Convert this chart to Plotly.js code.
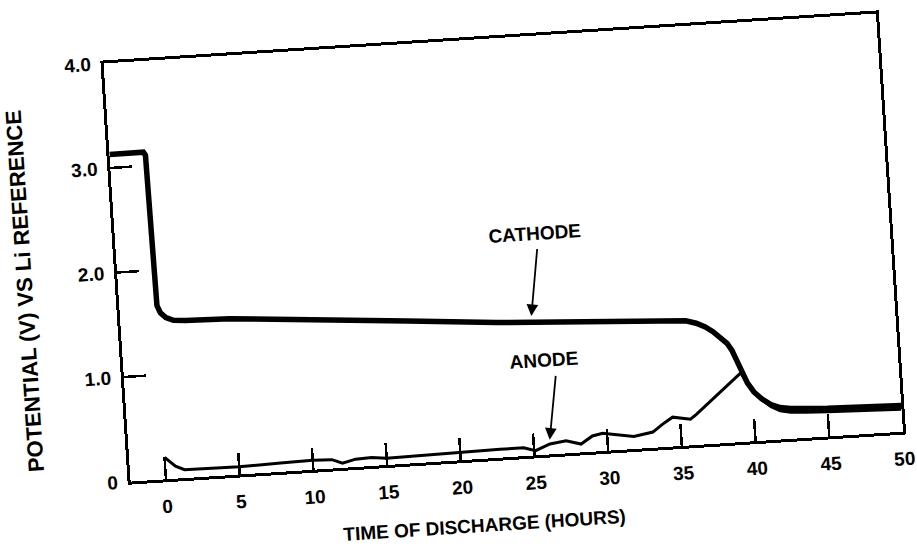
<!DOCTYPE html>
<html>
<head>
<meta charset="utf-8">
<script src="https://cdn.plot.ly/plotly-3.0.1.min.js"></script>
<style>
  html, body { margin: 0; padding: 0; background: #ffffff; overflow: hidden; }
  #chart { width: 917px; height: 552px; transform: rotate(-3.7deg); transform-origin: 458.5px 276px; }
</style>
</head>
<body>
<div id="chart"></div>
<script>
// ---- data (hours, volts vs Li reference) ----
const cathodeHours = [-2.4, -0.1, 0.03, 0.08, 0.15, 0.35, 0.7, 1.2, 2, 5, 10, 17, 23, 30, 34, 35, 35.8, 36.5, 37.1, 37.6, 38.1, 38.5, 38.8, 39.1, 39.4, 39.7, 40.1, 40.6, 41.2, 41.8, 42.5, 43.5, 45, 50];
const cathodeVolts = [3.13, 3.13, 3.10, 1.75, 1.66, 1.59, 1.54, 1.51, 1.50, 1.49, 1.44, 1.36, 1.29, 1.24, 1.21, 1.20, 1.19, 1.16, 1.12, 1.07, 1.01, 0.95, 0.88, 0.78, 0.66, 0.56, 0.47, 0.40, 0.34, 0.305, 0.29, 0.28, 0.27, 0.25];

const anodeHours = [0, 0.3, 0.7, 1.3, 3, 5, 8, 10, 11.3, 12, 12.9, 14, 15, 17, 20, 22.7, 24.3, 25.1, 26.1, 27.2, 28.2, 29, 29.7, 30.9, 31.8, 33.1, 33.8, 34.5, 35.7, 36.1, 39.3, 39.7, 40.1, 40.6, 41.2, 41.8, 42.5, 43.5, 45, 50];
const anodeVolts = [0.21, 0.17, 0.12, 0.08, 0.08, 0.075, 0.085, 0.09, 0.085, 0.045, 0.075, 0.08, 0.065, 0.07, 0.08, 0.08, 0.08, 0.045, 0.10, 0.12, 0.08, 0.15, 0.17, 0.14, 0.12, 0.15, 0.22, 0.28, 0.25, 0.29, 0.66, 0.56, 0.47, 0.39, 0.32, 0.275, 0.255, 0.245, 0.235, 0.215];

const xTickVals = [0, 5, 10, 15, 20, 25, 30, 35, 40, 45, 50];
const xTickText = ['0', '5', '10', '15', '20', '25', '30', '35', '40', '45', '50'];
const yTickVals = [0, 1, 2, 3, 4];
const yTickText = ['0', '1.0', '2.0', '3.0', '4.0'];

const FONT = 'Liberation Sans, Arial, sans-serif';

const traces = [
  { x: anodeHours, y: anodeVolts, mode: 'lines', name: 'ANODE',
    line: { color: '#000000', width: 3 }, hoverinfo: 'skip' },
  { x: cathodeHours, y: cathodeVolts, mode: 'lines', name: 'CATHODE',
    line: { color: '#000000', width: 5.5 }, hoverinfo: 'skip' }
];

const layout = {
  width: 917, height: 552,
  margin: { l: 118, r: 25, t: 41, b: 92 },
  paper_bgcolor: '#ffffff', plot_bgcolor: '#ffffff',
  showlegend: false,
  font: { family: FONT, color: '#000000' },
  xaxis: {
    range: [-2.4, 50], tickvals: xTickVals, ticktext: xTickText,
    ticks: 'inside', ticklen: 22, tickwidth: 2.5, tickcolor: '#000000',
    showline: true, linewidth: 3, linecolor: '#000000', mirror: true,
    showgrid: false, zeroline: false, ticklabelstandoff: 8,
    tickfont: { family: FONT, size: 19, weight: 'bold', color: '#000000' }
  },
  yaxis: {
    range: [0, 4], tickvals: yTickVals, ticktext: yTickText,
    ticks: 'inside', ticklen: 22, tickwidth: 2.5, tickcolor: '#000000',
    showline: true, linewidth: 3, linecolor: '#000000', mirror: true,
    showgrid: false, zeroline: false, ticklabelstandoff: 6,
    tickfont: { family: FONT, size: 19, weight: 'bold', color: '#000000' }
  },
  annotations: [
    { xref: 'paper', yref: 'paper', x: 0.4527, y: -0.158, xanchor: 'center', yanchor: 'middle',
      text: 'TIME OF DISCHARGE (HOURS)', showarrow: false,
      font: { family: FONT, size: 19, weight: 'bold', color: '#000000' } },
    { xref: 'paper', yref: 'paper', x: -0.121, y: 0.47, xanchor: 'center', yanchor: 'middle',
      text: 'POTENTIAL (V) VS Li REFERENCE', textangle: -90, showarrow: false,
      font: { family: FONT, size: 22, weight: 'bold', color: '#000000' } },
    { xref: 'x', yref: 'y', x: 26.0, y: 2.11, text: 'CATHODE', showarrow: false,
      font: { family: FONT, size: 19, weight: 'bold', color: '#000000' } },
    { xref: 'x', yref: 'y', x: 26.1, y: 0.90, text: 'ANODE', showarrow: false,
      font: { family: FONT, size: 19, weight: 'bold', color: '#000000' } },
    { xref: 'x', yref: 'y', axref: 'x', ayref: 'y', x: 25.4, y: 1.33, ax: 26.1, ay: 1.98,
      text: '', showarrow: true, arrowhead: 2, arrowsize: 1.3, arrowwidth: 1.8, arrowcolor: '#000000' },
    { xref: 'x', yref: 'y', axref: 'x', ayref: 'y', x: 26.1, y: 0.14, ax: 26.8, ay: 0.76,
      text: '', showarrow: true, arrowhead: 2, arrowsize: 1.3, arrowwidth: 1.8, arrowcolor: '#000000' }
  ]
};

Plotly.newPlot('chart', traces, layout, { displayModeBar: false, staticPlot: true });
</script>
</body>
</html>
